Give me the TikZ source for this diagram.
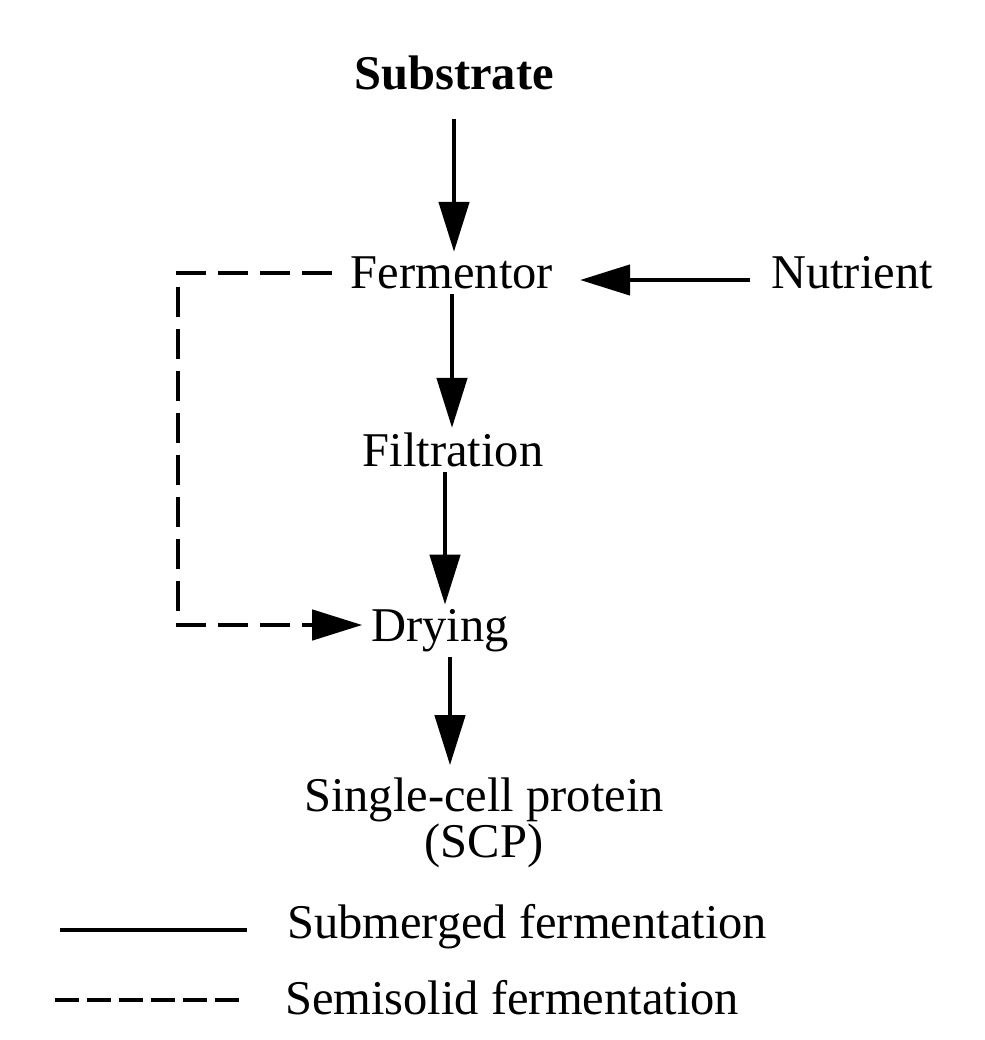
\documentclass[tikz,border=0pt]{standalone}
\usepackage{fontspec}
\setmainfont{Liberation Serif}
\usetikzlibrary{arrows.meta}

\begin{document}
\begin{tikzpicture}[line width=3.2pt,
    every node/.style={font=\fontsize{34.5}{40}\selectfont, inner sep=2pt},
    flow/.style={-{Triangle[length=1.25cm, width=0.75cm]}},
    semi/.style={dash pattern=on 0.75cm off 0.3cm}]
    \useasboundingbox (0,0) rectangle (24.625,-26);

    % Process steps
    \node (sub) at (11.35, -1.825) {\textbf{Substrate}};
    \node (fer) at (11.3, -6.825) {Fermentor};
    \node (nut) at (21.3, -6.825) {Nutrient};
    \node (fil) at (11.325, -11.25) {Filtration};
    \node (dry) at (11.0, -15.775) {Drying};
    \node[align=center, font=\fontsize{34.5}{30}\selectfont] (scp) at (12.1, -20.575) {Single-cell protein\\(SCP)};

    % Submerged route
    \draw[flow, shorten <=0.6cm] (sub.south) -- (sub.south |- fer.north);
    \draw[flow] (fer.south) -- (fer.south |- fil.north);
    \draw[flow] ([xshift=-0.2cm]fil.south) -- ([xshift=-0.2cm]fil.south |- dry.north);
    \draw[flow, shorten >=0.2cm] ([xshift=0.25cm]dry.south) -- ([xshift=0.25cm]dry.south |- scp.north);
    \draw[flow, shorten <=0.4cm, shorten >=0.55cm] ([yshift=-0.175cm]nut.west) -- ([yshift=-0.175cm]fer.east);

    % Semisolid route
    \coordinate (loop) at (4.45, -6.825);
    \draw[semi, flow, shorten <=0.35cm, shorten >=0.1cm] (fer.west) -- (loop) |- ([yshift=0.15cm]dry.west);

    % Legend
    \coordinate (solidA) at (1.5, -23.25);
    \coordinate (solidB) at (6.175, -23.25);
    \draw (solidA) -- (solidB);
    \node[anchor=west] (subleg) at (7.05, -23.175) {Submerged fermentation};

    \coordinate (dashA) at (1.375, -25);
    \coordinate (dashB) at (6.125, -25);
    \draw[line width=2.2pt, dash pattern=on 0.6cm off 0.2cm] (dashA) -- (dashB);
    \node[anchor=west] (semleg) at (7.0, -24.95) {Semisolid fermentation};
\end{tikzpicture}
\end{document}
